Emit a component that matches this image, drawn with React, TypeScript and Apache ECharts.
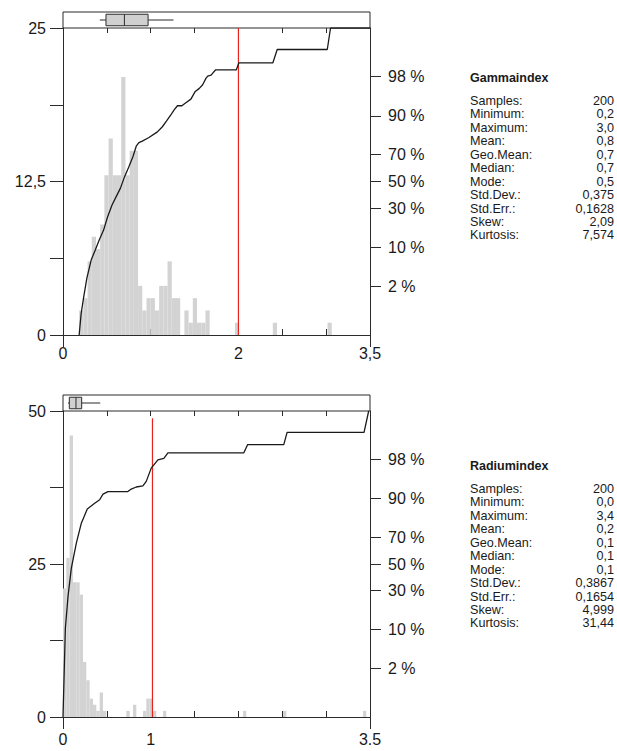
import React, { useEffect, useRef } from 'react';
import * as echarts from 'echarts';

// ---------- Gammaindex (top panel) ----------
const gammaBinStart = 0.184;
const gammaBinWidth = 0.048;
const gammaCounts = [
  2, 3, 6, 8, 7, 9, 13, 16, 13, 13, 21, 13, 15, 15, 4, 2, 3, 3, 2, 4,
  4, 6, 3, 3, 0, 2, 1, 3, 1, 1, 2, 0, 0, 0, 0, 0, 0, 1, 0, 0,
  0, 0, 0, 0, 0, 0, 1, 0, 0, 0, 0, 0, 0, 0, 0, 0, 0, 0, 0, 1,
];
const gammaCurveX = [
  0.184, 0.207, 0.234, 0.272, 0.322, 0.368, 0.414, 0.463, 0.509, 0.559, 0.605, 0.655, 0.701, 0.751,
  0.796, 0.835, 0.865, 0.904, 0.98, 1.076, 1.133, 1.179, 1.229, 1.267, 1.305, 1.355, 1.401, 1.458,
  1.508, 1.554, 1.592, 1.631, 1.65, 1.688, 1.738, 1.975, 2.006, 2.393, 2.442, 3.013, 3.05, 3.5,
];
const gammaCurveZ = [
  -3.0, -2.58, -2.28, -1.89, -1.53, -1.34, -1.14, -0.95, -0.69, -0.46, -0.3, -0.13, 0.09, 0.29,
  0.48, 0.69, 0.76, 0.79, 0.86, 0.97, 1.07, 1.18, 1.3, 1.4, 1.48, 1.48, 1.54, 1.61,
  1.76, 1.82, 1.89, 2.02, 2.06, 2.08, 2.18, 2.18, 2.32, 2.32, 2.58, 2.58, 3.0, 3.0,
];
const gammaBox = [0.42, 0.49, 0.7, 0.97, 1.26];
const gammaLimit = 2.0;
const gammaLimitTop = 25;
const gammaXTickValues = [0, 2, 3.5];
const gammaXTickLabels = ['0', '2', '3,5'];
const gammaYTickValues = [0, 12.5, 25];
const gammaYTickLabels = ['0', '12,5', '25'];
const gammaYMax = 25;
const gammaTitle = 'Gammaindex';
const gammaStats = ['200', '0,2', '3,0', '0,8', '0,7', '0,7', '0,5', '0,375', '0,1628', '2,09', '7,574'];

// ---------- Radiumindex (bottom panel) ----------
const radiumBinStart = 0;
const radiumBinWidth = 0.038;
const radiumCounts = [
  21, 26, 46, 22, 22, 20, 9, 6, 3, 2, 1, 4, 1, 0, 0, 0, 0, 0, 0, 1,
  0, 2, 0, 0, 1, 3, 3, 1, 0, 0, 1, 0, 0, 0, 0, 0, 0, 0, 0, 0,
  0, 0, 0, 0, 0, 0, 0, 0, 0, 0, 0, 0, 0, 0, 1, 0, 0, 0, 0, 0,
  0, 0, 0, 0, 0, 0, 1, 0, 0, 0, 0, 0, 0, 0, 0, 0, 0, 0, 0, 0,
  0, 0, 0, 0, 0, 0, 0, 0, 0, 0, 1,
];
const radiumCurveX = [
  0, 0.027, 0.057, 0.095, 0.152, 0.209, 0.277, 0.361, 0.418, 0.456, 0.513, 0.74, 0.778, 0.835,
  0.911, 0.949, 1.006, 1.082, 1.15, 1.196, 2.062, 2.104, 2.517, 2.555, 3.432, 3.485,
];
const radiumCurveZ = [
  -3.0, -1.26, -0.64, -0.08, 0.41, 0.8, 1.08, 1.19, 1.26, 1.37, 1.42, 1.42, 1.47, 1.51,
  1.53, 1.62, 1.88, 2.04, 2.07, 2.18, 2.18, 2.34, 2.34, 2.58, 2.58, 3.0,
];
const radiumBox = [0.057, 0.072, 0.148, 0.213, 0.425];
const radiumLimit = 1.02;
const radiumLimitTop = 48.8;
const radiumXTickValues = [0, 1, 3.5];
const radiumXTickLabels = ['0', '1', '3.5'];
const radiumYTickValues = [0, 25, 50];
const radiumYTickLabels = ['0', '25', '50'];
const radiumYMax = 50;
const radiumTitle = 'Radiumindex';
const radiumStats = ['200', '0,0', '3,4', '0,2', '0,1', '0,1', '0,1', '0,3867', '0,1654', '4,999', '31,44'];

// ---------- shared ----------
const statLabels = ['Samples:', 'Minimum:', 'Maximum:', 'Mean:', 'Geo.Mean:', 'Median:', 'Mode:', 'Std.Dev.:', 'Std.Err.:', 'Skew:', 'Kurtosis:'];
const probTicks = [2, 10, 30, 50, 70, 90, 98];
const probTickLabels = ['2 %', '10 %', '30 %', '50 %', '70 %', '90 %', '98 %'];

const FONT = '"Liberation Sans", Arial, Helvetica, sans-serif';
const AX = '#2b2b2b';
const TXT = '#1a1a1a';
const BAR = '#d3d3d3';

// inverse of the standard normal CDF (Acklam) – probability scale of the right axis
function normInv(p: number): number {
  const a = [-3.969683028665376e1, 2.209460984245205e2, -2.759285104469687e2, 1.38357751867269e2, -3.066479806614716e1, 2.506628277459239];
  const b = [-5.447609879822406e1, 1.615858368580409e2, -1.556989798598866e2, 6.680131188771972e1, -1.328068155288572e1];
  const c = [-7.784894002430293e-3, -3.223964580411365e-1, -2.400758277161838, -2.549732539343734, 4.374664141464968, 2.938163982698783];
  const d = [7.784695709041462e-3, 3.224671290700398e-1, 2.445134137142996, 3.754408661907416];
  const pl = 0.02425;
  if (p < pl) {
    const q = Math.sqrt(-2 * Math.log(p));
    return (((((c[0] * q + c[1]) * q + c[2]) * q + c[3]) * q + c[4]) * q + c[5]) / ((((d[0] * q + d[1]) * q + d[2]) * q + d[3]) * q + 1);
  }
  if (p <= 1 - pl) {
    const q = p - 0.5;
    const r = q * q;
    return ((((((a[0] * r + a[1]) * r + a[2]) * r + a[3]) * r + a[4]) * r + a[5]) * q) / (((((b[0] * r + b[1]) * r + b[2]) * r + b[3]) * r + b[4]) * r + 1);
  }
  const q = Math.sqrt(-2 * Math.log(1 - p));
  return -(((((c[0] * q + c[1]) * q + c[2]) * q + c[3]) * q + c[4]) * q + c[5]) / ((((d[0] * q + d[1]) * q + d[2]) * q + d[3]) * q + 1);
}
const probZ = probTicks.map((p) => normInv(p / 100));

function labelFor(values: number[], labels: string[]) {
  return (v: number) => {
    let best = 0;
    for (let i = 1; i < values.length; i++) if (Math.abs(values[i] - v) < Math.abs(values[best] - v)) best = i;
    return labels[best];
  };
}

interface PanelDef {
  mainTop: number;
  mainHeight: number;
  stripTop: number;
  binStart: number;
  binWidth: number;
  counts: number[];
  curveX: number[];
  curveZ: number[];
  box: number[];
  limit: number;
  limitTop: number;
  xTickValues: number[];
  xTickLabels: string[];
  yTickValues: number[];
  yTickLabels: string[];
  yMax: number;
  xLabelMargin: number;
}

const LEFT = 63;
const WIDTH = 307;

function buildPanel(p: PanelDef, k: number) {
  const gMain = k * 2;
  const gStrip = k * 2 + 1;
  const xb = k * 3;
  const yb = k * 3;
  const labelStyle = { fontFamily: FONT, fontSize: 16, color: TXT };
  const grids = [
    { left: LEFT, top: p.mainTop, width: WIDTH, height: p.mainHeight, show: false },
    { left: LEFT, top: p.stripTop, width: WIDTH, height: p.mainTop - p.stripTop, show: true, borderColor: AX, borderWidth: 1, backgroundColor: 'transparent' },
  ];
  const xAxes = [
    {
      gridIndex: gMain, type: 'value', min: 0, max: 3.5, interval: 0.5, position: 'bottom',
      axisLine: { show: true, onZero: false, lineStyle: { color: AX, width: 1 } },
      axisTick: { show: true, inside: true, length: 6, lineStyle: { color: AX } },
      axisLabel: { show: false }, splitLine: { show: false },
    },
    {
      gridIndex: gMain, type: 'value', min: 0, max: 3.5, position: 'bottom',
      axisLine: { show: false, onZero: false },
      axisTick: { show: true, inside: false, length: 12, customValues: [0, 3.5], lineStyle: { color: AX } },
      axisLabel: { show: true, customValues: p.xTickValues, formatter: labelFor(p.xTickValues, p.xTickLabels), margin: p.xLabelMargin, ...labelStyle },
      splitLine: { show: false },
    },
    {
      gridIndex: gStrip, type: 'value', min: 0, max: 3.5, interval: 0.5, position: 'bottom',
      axisLine: { show: false, onZero: false },
      axisTick: { show: true, inside: false, length: 5, lineStyle: { color: AX } },
      axisLabel: { show: false }, splitLine: { show: false },
    },
  ];
  const yTicks = [0, 0.25, 0.5, 0.75, 1].map((f) => f * p.yMax);
  const yAxes = [
    {
      gridIndex: gMain, type: 'value', min: 0, max: p.yMax, position: 'left',
      axisLine: { show: true, onZero: false, lineStyle: { color: AX, width: 1 } },
      axisTick: { show: true, inside: false, length: 13, customValues: yTicks, lineStyle: { color: AX } },
      axisLabel: { show: true, customValues: p.yTickValues, formatter: labelFor(p.yTickValues, p.yTickLabels), margin: 17, ...labelStyle },
      splitLine: { show: false },
    },
    {
      gridIndex: gMain, type: 'value', min: -3, max: 3, position: 'right',
      axisLine: { show: true, onZero: false, lineStyle: { color: AX, width: 1 } },
      axisTick: { show: true, inside: false, length: 11, customValues: probZ, lineStyle: { color: AX } },
      axisLabel: { show: true, customValues: probZ, formatter: labelFor(probZ, probTickLabels), margin: 18, ...labelStyle },
      splitLine: { show: false },
    },
    {
      gridIndex: gStrip, type: 'category', data: ['box'],
      axisLine: { show: false }, axisTick: { show: false }, axisLabel: { show: false }, splitLine: { show: false },
    },
  ];

  const histData = p.counts
    .map((c, i) => [p.binStart + i * p.binWidth, p.binStart + (i + 1) * p.binWidth, c])
    .filter((d) => d[2] > 0);

  const series = [
    {
      type: 'custom', xAxisIndex: xb, yAxisIndex: yb, silent: true,
      encode: { x: [0, 1], y: 2 },
      data: histData,
      renderItem: (params: any, api: any) => {
        const a = api.coord([api.value(0), 0]);
        const b = api.coord([api.value(1), api.value(2)]);
        return { type: 'rect', shape: { x: a[0], y: b[1], width: b[0] - a[0], height: a[1] - b[1] }, style: { fill: BAR } };
      },
    },
    {
      type: 'line', xAxisIndex: xb, yAxisIndex: yb, silent: true, showSymbol: false, symbol: 'none',
      data: [[p.limit, 0], [p.limit, p.limitTop]],
      lineStyle: { color: '#e8231c', width: 1.2 },
    },
    {
      type: 'line', xAxisIndex: xb, yAxisIndex: yb + 1, silent: true, showSymbol: false, symbol: 'none',
      data: p.curveX.map((x, i) => [x, p.curveZ[i]]),
      lineStyle: { color: '#1a1a1a', width: 1.3 },
    },
    {
      type: 'custom', xAxisIndex: xb + 2, yAxisIndex: yb + 2, silent: true,
      data: [p.box],
      encode: { x: [0, 1, 2, 3, 4], y: -1 },
      renderItem: (params: any, api: any) => {
        const yc = api.coord([api.value(0), 0])[1];
        const band = api.size([0, 1])[1];
        const h = band * 0.36;
        const xs = [0, 1, 2, 3, 4].map((i) => api.coord([api.value(i), 0])[0]);
        const st = { stroke: AX, lineWidth: 1 };
        return {
          type: 'group',
          children: [
            { type: 'line', shape: { x1: xs[0], y1: yc, x2: xs[1], y2: yc }, style: st },
            { type: 'line', shape: { x1: xs[3], y1: yc, x2: xs[4], y2: yc }, style: st },
            { type: 'rect', shape: { x: xs[1], y: yc - h, width: xs[3] - xs[1], height: 2 * h }, style: { fill: '#d0d0d0', stroke: AX, lineWidth: 1 } },
            { type: 'line', shape: { x1: xs[2], y1: yc - h, x2: xs[2], y2: yc + h }, style: st },
          ],
        };
      },
    },
  ];
  return { grids, xAxes, yAxes, series };
}

const STAT_FONT = 12.6;
const TITLE_FONT = 12.5;
const STAT_LINE = 13.45;

function statGraphics(title: string, values: string[], titleY: number) {
  const top = titleY + 23 - STAT_LINE / 2;
  return [
    { type: 'text', x: 470, y: titleY, style: { text: title, fontFamily: FONT, fontSize: TITLE_FONT, fontWeight: 'bold', fill: TXT, verticalAlign: 'middle', align: 'left' } },
    { type: 'text', x: 470, y: top, style: { text: statLabels.join('\n'), fontFamily: FONT, fontSize: STAT_FONT, lineHeight: STAT_LINE, fill: TXT, verticalAlign: 'top', align: 'left' } },
    { type: 'text', x: 614, y: top, style: { text: values.join('\n'), fontFamily: FONT, fontSize: STAT_FONT, lineHeight: STAT_LINE, fill: TXT, verticalAlign: 'top', align: 'right' } },
  ];
}

export default function App() {
  const ref = useRef<HTMLDivElement>(null);
  useEffect(() => {
    if (!ref.current) return;
    const chart = echarts.init(ref.current, undefined, { renderer: 'svg' });
    const top = buildPanel(
      {
        mainTop: 28, mainHeight: 307, stripTop: 12,
        binStart: gammaBinStart, binWidth: gammaBinWidth, counts: gammaCounts,
        curveX: gammaCurveX, curveZ: gammaCurveZ, box: gammaBox,
        limit: gammaLimit, limitTop: gammaLimitTop,
        xTickValues: gammaXTickValues, xTickLabels: gammaXTickLabels,
        yTickValues: gammaYTickValues, yTickLabels: gammaYTickLabels, yMax: gammaYMax,
        xLabelMargin: 10,
      },
      0,
    );
    const bot = buildPanel(
      {
        mainTop: 411, mainHeight: 306, stripTop: 395,
        binStart: radiumBinStart, binWidth: radiumBinWidth, counts: radiumCounts,
        curveX: radiumCurveX, curveZ: radiumCurveZ, box: radiumBox,
        limit: radiumLimit, limitTop: radiumLimitTop,
        xTickValues: radiumXTickValues, xTickLabels: radiumXTickLabels,
        yTickValues: radiumYTickValues, yTickLabels: radiumYTickLabels, yMax: radiumYMax,
        xLabelMargin: 14,
      },
      1,
    );
    chart.setOption({
      animation: false,
      backgroundColor: '#ffffff',
      textStyle: { fontFamily: FONT },
      grid: [...top.grids, ...bot.grids],
      xAxis: [...top.xAxes, ...bot.xAxes],
      yAxis: [...top.yAxes, ...bot.yAxes],
      series: [...top.series, ...bot.series],
      graphic: [...statGraphics(gammaTitle, gammaStats, 78), ...statGraphics(radiumTitle, radiumStats, 466)],
    });
    return () => chart.dispose();
  }, []);
  return <div ref={ref} style={{ position: 'absolute', left: 0, top: 0, width: 617, height: 751 }} />;
}
